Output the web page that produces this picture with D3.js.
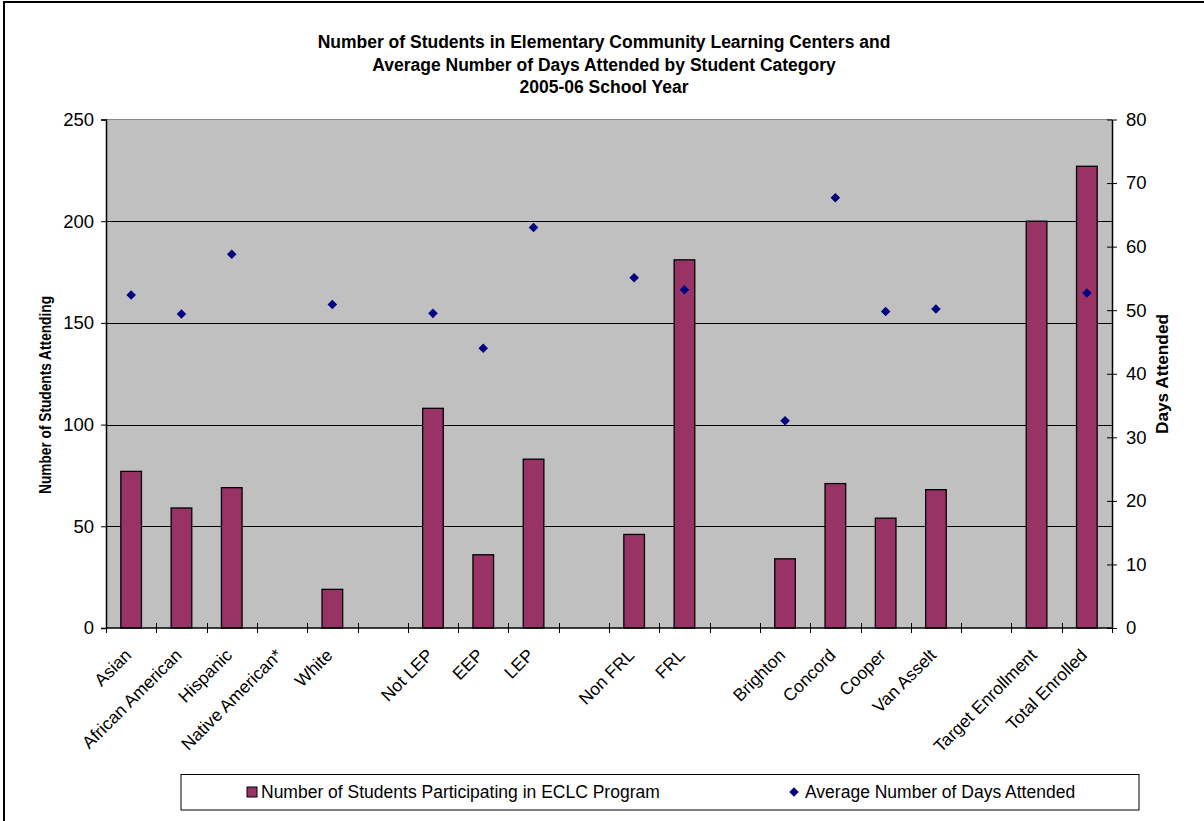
<!DOCTYPE html>
<html>
<head>
<meta charset="utf-8">
<script src="https://cdn.jsdelivr.net/npm/d3@7"></script>
<style>
  html, body { margin: 0; padding: 0; background: #fff; }
  svg { display: block; font-family: "Liberation Sans", Arial, sans-serif; }
</style>
</head>
<body>
<svg id="chart" width="1204" height="821"></svg>
<script>
// Student categories (empty strings are spacer slots between groups)
const categories = [
  "Asian", "African American", "Hispanic", "Native American*", "White", "",
  "Not LEP", "EEP", "LEP", "",
  "Non FRL", "FRL", "",
  "Brighton", "Concord", "Cooper", "Van Asselt", "",
  "Target Enrollment", "Total Enrolled"
];
// Number of students participating (left axis)
const students = [
  77, 59, 69, null, 19, null,
  108, 36, 83, null,
  46, 181, null,
  34, 71, 54, 68, null,
  200, 227
];
// Average number of days attended (right axis)
const daysAttended = [
  52.4, 49.4, 58.8, null, 50.9, null,
  49.5, 44.0, 63.0, null,
  55.1, 53.2, null,
  32.6, 67.7, 49.8, 50.2, null,
  null, 52.7
];
const leftTicks = [0, 50, 100, 150, 200, 250];
const rightTicks = [0, 10, 20, 30, 40, 50, 60, 70, 80];
const titleLines = [
  "Number of Students in Elementary Community Learning Centers and",
  "Average Number of Days Attended by Student Category",
  "2005-06 School Year"
];
const seriesNames = ["Number of Students Participating in ECLC Program", "Average Number of Days Attended"];

const svg = d3.select("#chart");
const plot = { left: 106, right: 1112, top: 119.5, bottom: 628 };
const barColor = "#993366";
const dotColor = "#000080";

// outer frame
svg.append("rect")
  .attr("x", 4).attr("y", 2).attr("width", 1230).attr("height", 860)
  .attr("fill", "none").attr("stroke", "#000").attr("stroke-width", 2);

const x = d3.scaleBand().domain(d3.range(categories.length))
  .range([plot.left, plot.right]).paddingInner(0).paddingOuter(0);
const yL = d3.scaleLinear().domain([0, 250]).range([plot.bottom, plot.top]);
const yR = d3.scaleLinear().domain([0, 80]).range([plot.bottom, plot.top]);

// plot background
svg.append("rect")
  .attr("x", plot.left).attr("y", plot.top)
  .attr("width", plot.right - plot.left).attr("height", plot.bottom - plot.top)
  .attr("fill", "#C0C0C0");

// gridlines
svg.append("g").selectAll("line")
  .data(leftTicks.filter(t => t > 0 && t < 250))
  .join("line")
  .attr("x1", plot.left).attr("x2", plot.right)
  .attr("y1", d => Math.round(yL(d)) + 0.5).attr("y2", d => Math.round(yL(d)) + 0.5)
  .attr("stroke", "#000").attr("stroke-width", 1);
svg.append("line")
  .attr("x1", plot.left).attr("x2", plot.right)
  .attr("y1", plot.top).attr("y2", plot.top)
  .attr("stroke", "#888").attr("stroke-width", 1);

// bars
const barW = x.bandwidth() * 0.41;
svg.append("g").selectAll("rect")
  .data(students.map((v, i) => ({ v, i })).filter(d => d.v != null))
  .join("rect")
  .attr("x", d => x(d.i) + (x.bandwidth() - barW) / 2)
  .attr("y", d => yL(d.v))
  .attr("width", barW)
  .attr("height", d => yL(0) - yL(d.v))
  .attr("fill", barColor)
  .attr("stroke", "#000").attr("stroke-width", 1.3);

// diamond markers
const diamond = d3.symbol().type(d3.symbolDiamond2).size(58);
svg.append("g").selectAll("path")
  .data(daysAttended.map((v, i) => ({ v, i })).filter(d => d.v != null))
  .join("path")
  .attr("d", diamond)
  .attr("transform", d => `translate(${x(d.i) + x.bandwidth() / 2},${yR(d.v)})`)
  .attr("fill", dotColor);

// left axis
const axL = svg.append("g").attr("transform", `translate(${plot.left},0)`)
  .call(d3.axisLeft(yL).tickValues(leftTicks).tickSize(5).tickPadding(7));
axL.select(".domain").attr("stroke", "#000").attr("stroke-width", 1.5);
axL.selectAll("text").attr("font-size", 18.5).attr("fill", "#000")
  .attr("font-family", "Liberation Sans, Arial, sans-serif");

// right axis (ticks cross the axis line)
const axR = svg.append("g").attr("transform", `translate(${plot.right},0)`)
  .call(d3.axisRight(yR).tickValues(rightTicks).tickSizeInner(5).tickSizeOuter(0).tickPadding(9));
axR.select(".domain").attr("stroke", "#000").attr("stroke-width", 1.5);
axR.selectAll(".tick line").attr("x1", -5);
axR.selectAll("text").attr("font-size", 18.5).attr("fill", "#000")
  .attr("font-family", "Liberation Sans, Arial, sans-serif");

// bottom axis: line, boundary ticks and rotated category labels
const axB = svg.append("g").attr("transform", `translate(0,${plot.bottom})`);
axB.append("line").attr("x1", plot.left).attr("x2", plot.right)
  .attr("stroke", "#000").attr("stroke-width", 1.5);
const bounds = d3.range(categories.length + 1).map(i => i < categories.length ? x(i) : plot.right);
axB.selectAll("line.tk").data(bounds).join("line").attr("class", "tk")
  .attr("x1", d => Math.round(d) + 0.5).attr("x2", d => Math.round(d) + 0.5)
  .attr("y1", (d, i) => (i === 0 || i === bounds.length - 1) ? 0 : -5)
  .attr("y2", 5)
  .attr("stroke", "#000").attr("stroke-width", 1);
axB.selectAll("text").data(categories.map((c, i) => ({ c, i })).filter(d => d.c))
  .join("text")
  .attr("transform", d => `translate(${x(d.i) + x.bandwidth() / 2 - 3},${24}) rotate(-45)`)
  .attr("text-anchor", "end")
  .attr("dy", "0.35em")
  .attr("font-size", 17.5)
  .attr("fill", "#000")
  .text(d => d.c);

// title
svg.append("g").selectAll("text").data(titleLines).join("text")
  .attr("x", 604).attr("y", (d, i) => 48 + i * 22.5)
  .attr("text-anchor", "middle")
  .attr("font-size", 17.5).attr("font-weight", "bold")
  .text(d => d);

// axis titles
svg.append("text")
  .attr("transform", `translate(51,395) rotate(-90)`)
  .attr("text-anchor", "middle").attr("font-size", 16).attr("font-weight", "bold")
  .attr("textLength", 198).attr("lengthAdjust", "spacingAndGlyphs")
  .text("Number of Students Attending");
svg.append("text")
  .attr("transform", `translate(1168,374) rotate(-90)`)
  .attr("text-anchor", "middle").attr("font-size", 16.5).attr("font-weight", "bold")
  .attr("textLength", 120).attr("lengthAdjust", "spacingAndGlyphs")
  .text("Days Attended");

// legend
const lg = svg.append("g");
lg.append("rect").attr("x", 181).attr("y", 774.5).attr("width", 958).attr("height", 35.5)
  .attr("fill", "#fff").attr("stroke", "#000").attr("stroke-width", 1);
lg.append("rect").attr("x", 247).attr("y", 787).attr("width", 10).attr("height", 10)
  .attr("fill", barColor).attr("stroke", "#000").attr("stroke-width", 1);
lg.append("text").attr("x", 261).attr("y", 798).attr("font-size", 17.5).text(seriesNames[0]);
lg.append("path").attr("d", diamond).attr("transform", "translate(794,792)").attr("fill", dotColor);
lg.append("text").attr("x", 805).attr("y", 798).attr("font-size", 17.5).text(seriesNames[1]);
</script>
</body>
</html>
